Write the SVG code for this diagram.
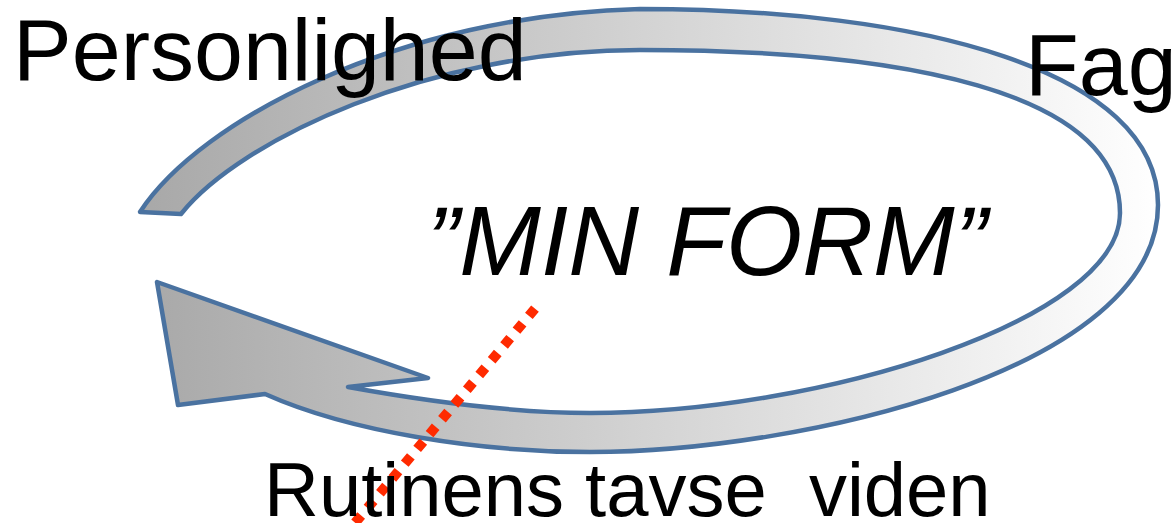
<svg xmlns="http://www.w3.org/2000/svg" width="1176" height="523" viewBox="0 0 1176 523">
  <style>
    .lbl { font-family: "Liberation Sans", Arial, sans-serif; fill: #000000; }
    .band { fill: url(#grad); stroke: #4a72a0; stroke-width: 4.5; stroke-linejoin: round; }
    .dots { fill: none; stroke: #ff2a00; stroke-width: 10; stroke-dasharray: 9.5 9.8; }
  </style>
  <defs>
    <linearGradient id="grad" gradientUnits="userSpaceOnUse" x1="140" y1="0" x2="1160" y2="0">
      <stop offset="0" stop-color="#a8a8a8"/>
      <stop offset="1" stop-color="#ffffff"/>
    </linearGradient>
  </defs>
  <rect x="0" y="0" width="1176" height="523" fill="#ffffff"/>
  <g id="circular-arrow">
    <path class="band" d="M140,212 C200,120 400,15 640,9 C920,9 1158,70 1158,205 C1158,370 800,452 590,452 C480,452 350,432 265,394 L178,405 L157,282 L428,378 L348,387 C420,400 510,413 590,413 C820,413 1120,320 1120,213 C1120,90 900,50 640,50 C430,50 240,140 181,214 Z"/>
  </g>
  <g id="node-personlighed">
    <text class="lbl" x="13" y="80" font-size="88">Personlighed</text>
  </g>
  <g id="node-fag">
    <text class="lbl" x="1025" y="95" font-size="88">Fag</text>
  </g>
  <g id="node-minform">
    <text class="lbl" x="707" y="275" font-size="98" font-style="italic" text-anchor="middle">”MIN FORM”</text>
  </g>
  <g id="connectors">
    <path class="dots" d="M535,308.6 L349,530"/>
  </g>
  <g id="node-rutinens">
    <text class="lbl" x="264" y="516" font-size="76" xml:space="preserve">Rutinens tavse  viden</text>
  </g>
</svg>
